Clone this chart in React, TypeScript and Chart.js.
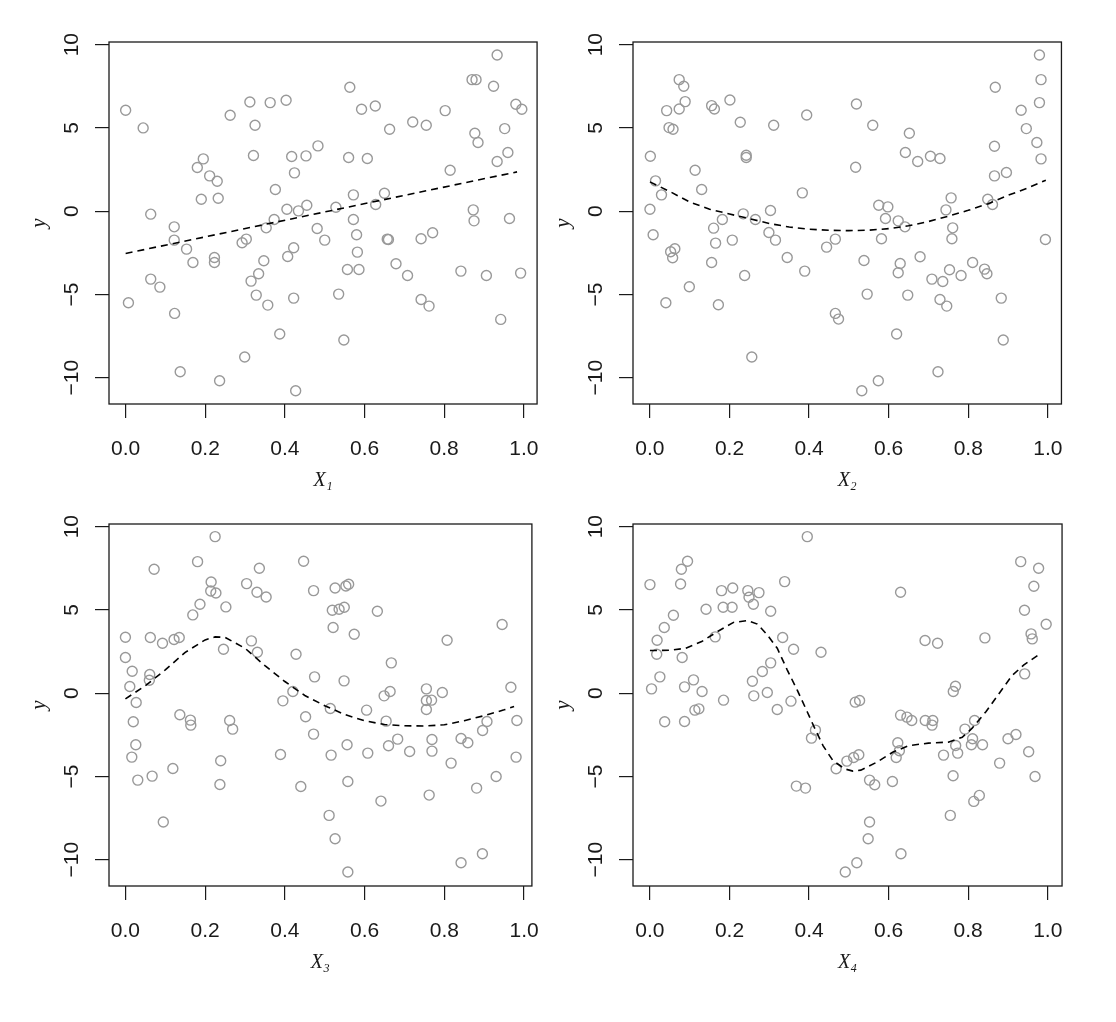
import React, { useEffect, useRef } from 'react';
import { Chart, registerables } from 'chart.js';

Chart.register(...registerables);

// ---- tick labels ----
const X_TICKS = [0, 0.2, 0.4, 0.6, 0.8, 1.0];
const Y_TICKS = [-10, -5, 0, 5, 10];
const Y_MIN = -11.58;
const Y_MAX = 10.16;

// ---- panel 1 (X1) ----
const x1 = [0.0, 0.044, 0.063, 0.007, 0.122, 0.122, 0.063, 0.086, 0.123, 0.137, 0.153, 0.169, 0.18, 0.195, 0.211, 0.23, 0.19, 0.2325, 0.223, 0.223, 0.236, 0.2625, 0.312, 0.325, 0.321, 0.2925, 0.303, 0.315, 0.334, 0.328, 0.357, 0.299, 0.363, 0.403, 0.376, 0.353, 0.373, 0.347, 0.387, 0.427, 0.417, 0.453, 0.483, 0.424, 0.405, 0.434, 0.455, 0.422, 0.407, 0.422, 0.481, 0.5,
  0.933, 0.87, 0.88, 0.924, 0.563, 0.5925, 0.627, 0.663, 0.721, 0.755, 0.8025, 0.98, 0.995, 0.877, 0.885, 0.952, 0.96, 0.933, 0.815, 0.56, 0.607, 0.572, 0.65, 0.628, 0.528, 0.572, 0.58, 0.657, 0.66, 0.582, 0.557, 0.586, 0.535, 0.548, 0.679, 0.708, 0.742, 0.771, 0.742, 0.762, 0.873, 0.875, 0.964, 0.842, 0.906, 0.992, 0.942];
const y1 = [6.06, 5.0, -0.18, -5.5, -0.94, -1.74, -4.08, -4.56, -6.14, -9.64, -2.28, -3.08, 2.62, 3.14, 2.12, 1.8, 0.72, 0.78, -2.78, -3.08, -10.18, 5.76, 6.56, 5.16, 3.34, -1.9, -1.68, -4.2, -3.76, -5.04, -5.64, -8.76, 6.52, 6.66, 1.3, -1.0, -0.5, -2.98, -7.38, -10.78, 3.28, 3.32, 3.92, 2.3, 0.12, 0.02, 0.36, -2.2, -2.72, -5.22, -1.04, -1.74,
  9.38, 7.9, 7.9, 7.5, 7.44, 6.12, 6.32, 4.92, 5.36, 5.16, 6.04, 6.42, 6.12, 4.68, 4.12, 4.96, 3.52, 2.98, 2.46, 3.22, 3.16, 0.98, 1.08, 0.4, 0.24, -0.5, -1.42, -1.68, -1.7, -2.46, -3.5, -3.5, -4.98, -7.74, -3.16, -3.86, -1.66, -1.3, -5.3, -5.7, 0.08, -0.58, -0.44, -3.6, -3.86, -3.72, -6.5];
const fitX1 = [0.0, 0.983];
const fitY1 = [-2.54, 2.36];

// ---- panel 2 (X2) ----
const x2 = [0.0735, 0.085, 0.0885, 0.0735, 0.042, 0.048, 0.058, 0.155, 0.162, 0.201, 0.227, 0.311, 0.394, 0.001, 0.1135, 0.242, 0.242, 0.014, 0.13, 0.029, 0.383, 0.0, 0.008, 0.2345, 0.265, 0.303, 0.182, 0.16, 0.165, 0.207, 0.299, 0.3155, 0.0626, 0.052, 0.057, 0.155, 0.345, 0.238, 0.389, 0.099, 0.04, 0.172, 0.466, 0.474, 0.256, 0.444, 0.466,
  0.519, 0.56, 0.517, 0.652, 0.642, 0.673, 0.705, 0.729, 0.868, 0.979, 0.983, 0.979, 0.933, 0.946, 0.9725, 0.983, 0.866, 0.866, 0.896, 0.757, 0.744, 0.849, 0.861, 0.575, 0.598, 0.592, 0.624, 0.641, 0.582, 0.761, 0.759, 0.994, 0.538, 0.629, 0.624, 0.679, 0.753, 0.782, 0.811, 0.841, 0.847, 0.7087, 0.736, 0.546, 0.648, 0.729, 0.746, 0.883, 0.62, 0.888, 0.724, 0.574, 0.5325];
const y2 = [7.9, 7.5, 6.58, 6.14, 6.04, 5.02, 4.92, 6.34, 6.14, 6.68, 5.34, 5.16, 5.78, 3.3, 2.46, 3.36, 3.22, 1.82, 1.3, 0.98, 1.1, 0.12, -1.42, -0.16, -0.5, 0.04, -0.5, -1.02, -1.92, -1.74, -1.28, -1.74, -2.26, -2.44, -2.8, -3.08, -2.78, -3.86, -3.6, -4.54, -5.5, -5.62, -6.14, -6.48, -8.76, -2.16, -1.68,
  6.44, 5.16, 2.64, 4.68, 3.52, 2.98, 3.3, 3.16, 7.44, 9.38, 7.9, 6.52, 6.06, 4.96, 4.12, 3.14, 3.9, 2.12, 2.32, 0.8, 0.08, 0.72, 0.4, 0.36, 0.26, -0.44, -0.58, -0.94, -1.66, -1.0, -1.66, -1.7, -2.96, -3.14, -3.7, -2.74, -3.52, -3.86, -3.08, -3.48, -3.76, -4.08, -4.22, -4.98, -5.04, -5.3, -5.7, -5.22, -7.38, -7.74, -9.64, -10.18, -10.78];
const fitX2 = [0, 0.05, 0.1, 0.15, 0.2, 0.25, 0.3, 0.35, 0.4, 0.45, 0.5, 0.55, 0.6, 0.65, 0.7, 0.75, 0.8, 0.85, 0.9, 0.95, 0.995];
const fitY2 = [1.76, 1.18, 0.55, 0.12, -0.17, -0.45, -0.74, -0.95, -1.08, -1.15, -1.17, -1.14, -1.05, -0.88, -0.62, -0.3, 0.05, 0.45, 0.95, 1.4, 1.86];

// ---- panel 3 (X3) ----
const x3 = [0.225, 0.072, 0.181, 0.215, 0.214, 0.227, 0.187, 0.252, 0.169, 0.304, 0.336, 0.33, 0.353, 0.447, 0.472, 0.0, 0.0625, 0.093, 0.122, 0.135, 0.246, 0.316, 0.331, 0.428, 0.4745, 0.0, 0.017, 0.061, 0.06, 0.011, 0.027, 0.0197, 0.026, 0.016, 0.031, 0.067, 0.119, 0.095, 0.1365, 0.163, 0.164, 0.2615, 0.269, 0.239, 0.237, 0.395, 0.42, 0.452, 0.472, 0.389, 0.44,
  0.526, 0.553, 0.56, 0.519, 0.536, 0.549, 0.632, 0.521, 0.574, 0.945, 0.807, 0.667, 0.5485, 0.967, 0.755, 0.795, 0.664, 0.649, 0.755, 0.768, 0.755, 0.514, 0.605, 0.654, 0.907, 0.982, 0.896, 0.556, 0.516, 0.608, 0.66, 0.683, 0.713, 0.769, 0.769, 0.842, 0.859, 0.817, 0.98, 0.558, 0.93, 0.881, 0.641, 0.762, 0.511, 0.526, 0.558, 0.842, 0.8955];
const y3 = [9.4, 7.44, 7.9, 6.68, 6.14, 6.02, 5.34, 5.18, 4.7, 6.58, 7.5, 6.06, 5.78, 7.92, 6.16, 3.36, 3.34, 3.0, 3.22, 3.34, 2.64, 3.14, 2.46, 2.34, 0.98, 2.14, 1.32, 1.12, 0.78, 0.4, -0.56, -1.72, -3.1, -3.84, -5.22, -4.98, -4.52, -7.74, -1.3, -1.62, -1.92, -1.64, -2.16, -4.06, -5.48, -0.46, 0.1, -1.42, -2.46, -3.68, -5.6,
  6.32, 6.44, 6.54, 4.98, 5.04, 5.16, 4.92, 3.94, 3.54, 4.12, 3.18, 1.82, 0.74, 0.36, 0.26, 0.04, 0.1, -0.16, -0.44, -0.42, -0.98, -0.92, -1.02, -1.68, -1.7, -1.64, -2.24, -3.1, -3.72, -3.6, -3.16, -2.76, -3.5, -2.78, -3.48, -2.72, -2.98, -4.2, -3.84, -5.3, -5.0, -5.7, -6.48, -6.12, -7.34, -8.74, -10.74, -10.18, -9.64];
const fitX3 = [0, 0.05, 0.1, 0.15, 0.2, 0.225, 0.25, 0.3, 0.35, 0.4, 0.45, 0.5, 0.55, 0.6, 0.65, 0.7, 0.75, 0.8, 0.85, 0.9, 0.95, 0.975];
const fitY3 = [-0.34, 0.45, 1.4, 2.45, 3.2, 3.38, 3.35, 2.7, 1.65, 0.7, -0.14, -0.75, -1.28, -1.66, -1.88, -1.96, -1.97, -1.9, -1.65, -1.35, -1.0, -0.8];

// ---- panel 4 (X4) ----
const x4 = [0.3955, 0.0945, 0.079, 0.077, 0.0, 0.3386, 0.18, 0.208, 0.246, 0.274, 0.249, 0.26, 0.184, 0.2065, 0.141, 0.3035, 0.059, 0.036, 0.018, 0.017, 0.081, 0.164, 0.3336, 0.361, 0.43, 0.025, 0.004, 0.087, 0.1095, 0.131, 0.113, 0.123, 0.185, 0.037, 0.087, 0.2575, 0.2826, 0.3035, 0.261, 0.295, 0.32, 0.3545, 0.416, 0.406, 0.468, 0.495, 0.368, 0.391, 0.491,
  0.512, 0.525, 0.516, 0.527, 0.552, 0.565, 0.552, 0.5485, 0.52, 0.63, 0.6095, 0.631, 0.63, 0.646, 0.658, 0.623, 0.627, 0.619, 0.6915, 0.723, 0.692, 0.711, 0.709, 0.768, 0.7625, 0.738, 0.7685, 0.7735, 0.762, 0.755, 0.7918, 0.816, 0.811, 0.808, 0.836, 0.814, 0.828, 0.842, 0.879, 0.9, 0.92, 0.932, 0.977, 0.965, 0.9415, 0.996, 0.958, 0.961, 0.942, 0.952, 0.968];
const y4 = [9.4, 7.92, 7.44, 6.56, 6.52, 6.7, 6.16, 6.32, 6.16, 6.04, 5.76, 5.34, 5.16, 5.16, 5.04, 4.92, 4.68, 3.94, 3.18, 2.34, 2.14, 3.38, 3.34, 2.64, 2.46, 0.98, 0.26, 0.38, 0.8, 0.1, -1.02, -0.94, -0.42, -1.72, -1.7, 0.72, 1.3, 1.82, -0.16, 0.04, -0.98, -0.48, -2.22, -2.7, -4.54, -4.08, -5.58, -5.7, -10.74,
  -3.86, -3.7, -0.54, -0.44, -5.22, -5.5, -7.74, -8.74, -10.18, 6.06, -5.3, -9.64, -1.32, -1.44, -1.64, -2.98, -3.46, -3.86, 3.16, 3.0, -1.64, -1.64, -1.92, 0.42, 0.1, -3.72, -3.14, -3.6, -4.96, -7.34, -2.16, -1.64, -2.74, -3.1, -3.1, -6.5, -6.14, 3.32, -4.2, -2.74, -2.48, 7.9, 7.5, 6.42, 4.98, 4.14, 3.56, 3.26, 1.16, -3.52, -5.0];
const fitX4 = [0, 0.05, 0.09, 0.13, 0.17, 0.21, 0.245, 0.27, 0.295, 0.32, 0.345, 0.37, 0.395, 0.415, 0.435, 0.46, 0.49, 0.51, 0.53, 0.57, 0.61, 0.65, 0.7, 0.75, 0.785, 0.81, 0.845, 0.88, 0.91, 0.94, 0.98];
const fitY4 = [2.56, 2.58, 2.7, 3.1, 3.7, 4.25, 4.36, 4.15, 3.5, 2.7, 1.4, 0.2, -1.1, -2.15, -3.15, -4.05, -4.55, -4.68, -4.62, -4.15, -3.55, -3.15, -3.0, -2.94, -2.65, -2.1, -1.1, 0.06, 1.05, 1.7, 2.35];

// ---- layout constants ----
const CW = 558;
const CH = 511;
const PLOT_LEFT = 109;
const PLOT_RIGHT = 539;
const PLOT_TOP = 42;
const PLOT_BOTTOM = 404;

const INK = '#1a1a1a';
const POINT_GRAY = '#999999';

const boxPlugin = {
  id: 'rbox',
  afterDatasetsDraw(chart: any) {
    const { ctx, chartArea: a } = chart;
    ctx.save();
    ctx.strokeStyle = INK;
    ctx.lineWidth = 1.3;
    ctx.strokeRect(a.left, a.top, a.right - a.left, a.bottom - a.top);
    ctx.restore();
  },
};

const fmtY = (v: number) => (v < 0 ? '\u2212' + Math.abs(v) : String(v));

type PanelProps = {
  xs: number[];
  ys: number[];
  fx: number[];
  fy: number[];
  xMin: number;
  xMax: number;
  title: string;
  left: number;
  top: number;
};

function Panel({ xs, ys, fx, fy, xMin, xMax, title, left, top }: PanelProps) {
  const ref = useRef<HTMLCanvasElement | null>(null);
  useEffect(() => {
    if (!ref.current) return;
    const pts = xs.map((x, i) => ({ x, y: ys[i] }));
    const fit = fx.map((x, i) => ({ x, y: fy[i] }));
    const chart = new Chart(ref.current, {
      type: 'scatter',
      data: {
        datasets: [
          {
            data: fit,
            showLine: true,
            borderColor: '#000',
            borderWidth: 1.6,
            borderDash: [7, 5],
            pointRadius: 0,
            fill: false,
            tension: 0,
          },
          {
            data: pts,
            showLine: false,
            pointStyle: 'circle',
            pointRadius: 5,
            pointBorderWidth: 1.4,
            pointBorderColor: POINT_GRAY,
            pointBackgroundColor: 'rgba(0,0,0,0)',
            borderColor: POINT_GRAY,
            backgroundColor: 'rgba(0,0,0,0)',
          },
        ],
      },
      options: {
        animation: false,
        responsive: false,
        events: [],
        layout: { padding: { left: 0, top: PLOT_TOP, right: CW - PLOT_RIGHT, bottom: 0 } },
        plugins: { legend: { display: false }, tooltip: { enabled: false } },
        scales: {
          x: {
            type: 'linear',
            min: xMin,
            max: xMax,
            afterBuildTicks: (s: any) => {
              s.ticks = X_TICKS.map((v) => ({ value: v }));
            },
            afterFit: (s: any) => {
              s.height = CH - PLOT_BOTTOM;
            },
            grid: { drawOnChartArea: false, drawTicks: true, tickLength: 14, color: INK, lineWidth: 1.2 },
            border: { display: false },
            ticks: {
              color: INK,
              padding: 19,
              maxRotation: 0,
              minRotation: 0,
              font: { family: 'Liberation Sans, Arial, sans-serif', size: 21 },
              callback: (v: any) => Number(v).toFixed(1),
            },
            title: {
              display: true,
              text: title,
              color: INK,
              font: { family: 'Liberation Serif, serif', style: 'italic', size: 20 },
              padding: { top: 0, bottom: 18 },
            },
          },
          y: {
            type: 'linear',
            min: Y_MIN,
            max: Y_MAX,
            afterBuildTicks: (s: any) => {
              s.ticks = Y_TICKS.map((v) => ({ value: v }));
            },
            afterFit: (s: any) => {
              s.width = PLOT_LEFT;
            },
            grid: { drawOnChartArea: false, drawTicks: true, tickLength: 14, color: INK, lineWidth: 1.2 },
            border: { display: false },
            ticks: {
              color: INK,
              padding: 5,
              minRotation: 90,
              maxRotation: 90,
              crossAlign: 'center',
              font: { family: 'Liberation Sans, Arial, sans-serif', size: 21 },
              callback: (v: any) => fmtY(Number(v)),
            },
            title: {
              display: true,
              text: 'y',
              color: INK,
              font: { family: 'Liberation Serif, serif', style: 'italic', size: 21 },
              padding: { top: 27, bottom: 0 },
            },
          },
        },
      },
      plugins: [boxPlugin],
    } as any);
    return () => chart.destroy();
  }, [xs, ys, fx, fy, xMin, xMax, title]);

  return (
    <canvas
      ref={ref}
      width={CW}
      height={CH}
      style={{ position: 'absolute', left, top, width: CW, height: CH }}
    />
  );
}

export default function App() {
  return (
    <div style={{ position: 'absolute', left: 0, top: 0, width: 1116, height: 1022, background: '#fff' }}>
      <Panel xs={x1} ys={y1} fx={fitX1} fy={fitY1} xMin={-0.0418} xMax={1.0333} title={'X\u2081'} left={0} top={0} />
      <Panel xs={x2} ys={y2} fx={fitX2} fy={fitY2} xMin={-0.0426} xMax={1.0343} title={'X\u2082'} left={524} top={0} />
      <Panel xs={x3} ys={y3} fx={fitX3} fy={fitY3} xMin={-0.0412} xMax={1.0197} title={'X\u2083'} left={0} top={482} />
      <Panel xs={x4} ys={y4} fx={fitX4} fy={fitY4} xMin={-0.0426} xMax={1.0359} title={'X\u2084'} left={524} top={482} />
    </div>
  );
}
